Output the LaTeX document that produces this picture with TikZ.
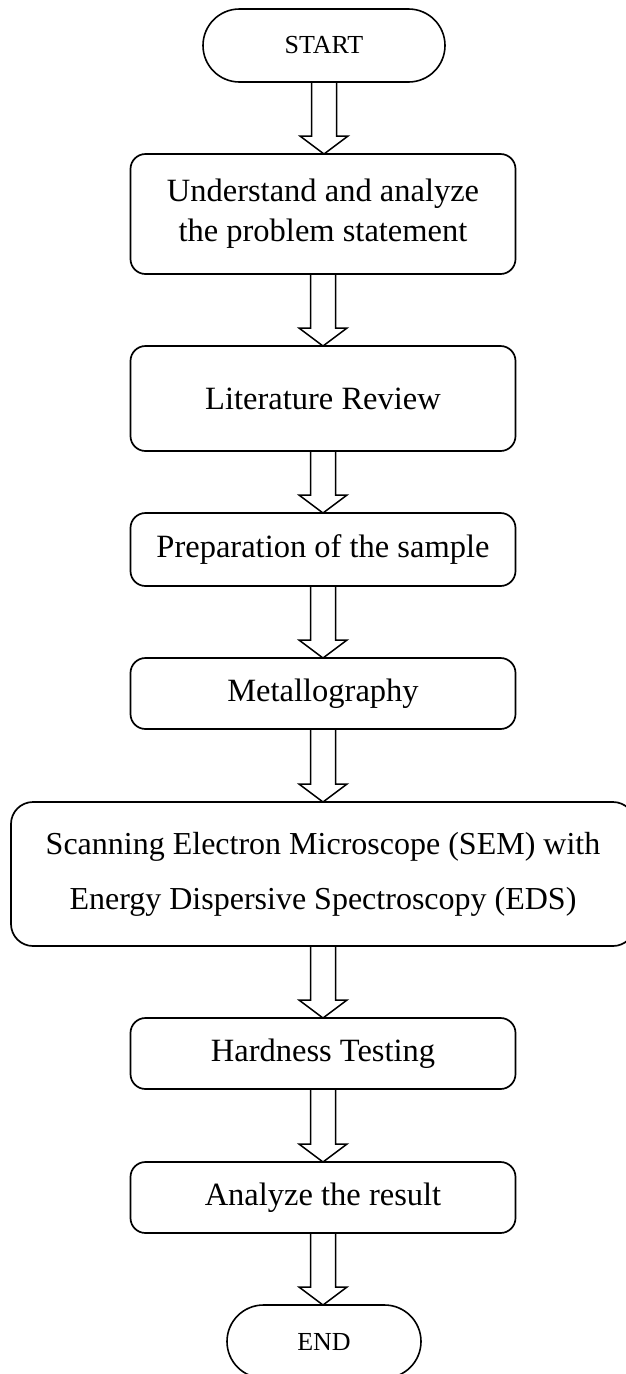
\documentclass[tikz,border=0pt]{standalone}
\usepackage{fontspec}
\setmainfont{Liberation Serif}
\usetikzlibrary{shapes.misc,calc}

\tikzset{
  terminal/.style={draw, rounded rectangle, line width=1.6pt, inner sep=0pt, outer sep=0pt,
    font=\fontsize{26}{30}\selectfont},
  stepbox/.style={draw, rounded corners=15pt, line width=1.7pt, inner sep=0pt, outer sep=0pt,
    minimum width=385pt, align=center, font=\fontsize{32.5}{40}\selectfont},
  widebox/.style={stepbox, rounded corners=22pt, minimum width=624pt,
    font=\fontsize{32}{55}\selectfont},
  blockarrow/.style={draw, line width=1.5pt, line join=miter}
}

% hollow block arrow from the bottom of one node to the top of the next
\newcommand{\flowarrow}[2]{%
  \path[blockarrow] let \p1=(#1.south), \p2=(#2.north) in
    (\x1-12.5,\y1) -- (\x1-12.5,\y2+18) -- (\x1-24,\y2+18) -- (\x1,\y2)
    -- (\x1+24,\y2+18) -- (\x1+12.5,\y2+18) -- (\x1+12.5,\y1);%
}

\begin{document}
\begin{tikzpicture}[x=1pt,y=1pt]
  \clip (0,0) rectangle (626,-1374);

  \node[terminal, minimum width=242pt, minimum height=73pt] (start) at (324,-45.5) {START};
  \node[stepbox, minimum height=120pt] (understand) at (323,-214)
    {Understand and analyze\\the problem statement};
  \node[stepbox, minimum height=105pt] (review) at (323,-398.5) {Literature Review};
  \node[stepbox, minimum height=73pt] (prep) at (323,-549.5) {Preparation of the sample};
  \node[stepbox, minimum height=71pt] (metal) at (323,-693.5) {Metallography};
  \node[widebox, minimum height=144pt] (sem) at (323,-874)
    {Scanning Electron Microscope (SEM) with\\Energy Dispersive Spectroscopy (EDS)};
  \node[stepbox, minimum height=71pt] (hard) at (323,-1053.5) {Hardness Testing};
  \node[stepbox, minimum height=71pt] (analyze) at (323,-1197.5) {Analyze the result};
  \node[terminal, minimum width=194pt, minimum height=73pt] (end) at (324,-1341.5) {END};

  \flowarrow{start}{understand}
  \flowarrow{understand}{review}
  \flowarrow{review}{prep}
  \flowarrow{prep}{metal}
  \flowarrow{metal}{sem}
  \flowarrow{sem}{hard}
  \flowarrow{hard}{analyze}
  \flowarrow{analyze}{end}
\end{tikzpicture}
\end{document}
